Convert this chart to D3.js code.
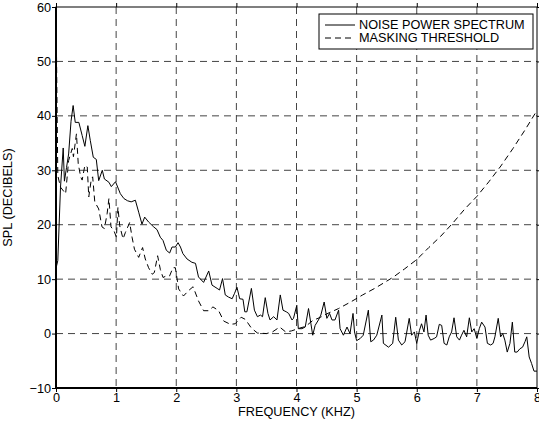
<!DOCTYPE html>
<html>
<head>
<meta charset="utf-8">
<script src="https://cdn.jsdelivr.net/npm/d3@7"></script>
<style>
  body { margin: 0; background: #fff; }
  text { font-family: "Liberation Sans", Arial, sans-serif; fill: #000; }
</style>
</head>
<body>
<div id="chart"></div>
<script>
// noise power spectrum, frequency (kHz) and level (dB)
var noiseFreq = [0, 0.03, 0.075, 0.12, 0.14, 0.175, 0.21, 0.25, 0.285, 0.32, 0.38, 0.435, 0.48, 0.53, 0.57, 0.62, 0.67, 0.71, 0.77, 0.805, 0.88, 0.92, 0.99,
  1.07, 1.13, 1.19, 1.25, 1.32, 1.375, 1.43, 1.475, 1.54, 1.625, 1.68, 1.735, 1.78, 1.835, 1.89, 1.93, 1.985,
  2.03, 2.07, 2.11, 2.18, 2.26, 2.32, 2.37, 2.455, 2.54, 2.595, 2.68, 2.72, 2.77, 2.815, 2.87, 2.93, 2.97,
  3.01, 3.055, 3.11, 3.14, 3.175, 3.25, 3.30, 3.35, 3.40, 3.435, 3.48, 3.525, 3.56, 3.62, 3.675, 3.73, 3.775, 3.83, 3.87, 3.925, 3.95,
  4.005, 4.03, 4.09, 4.145, 4.2, 4.24, 4.27, 4.31, 4.365, 4.405, 4.46, 4.505, 4.55, 4.59, 4.64, 4.70, 4.725, 4.78, 4.84, 4.89, 4.94, 4.965,
  5.0, 5.06, 5.11, 5.195, 5.235, 5.28, 5.335, 5.42, 5.445, 5.53, 5.60, 5.65, 5.695, 5.75, 5.805, 5.875, 5.915, 5.96,
  6.0, 6.045, 6.08, 6.12, 6.155, 6.19, 6.23, 6.29, 6.33, 6.375, 6.415, 6.455, 6.50, 6.54, 6.58, 6.62, 6.665, 6.71, 6.745, 6.785, 6.83, 6.875, 6.915, 6.955,
  7.0, 7.04, 7.08, 7.135, 7.175, 7.23, 7.27, 7.30, 7.355, 7.395, 7.43, 7.465, 7.505, 7.55, 7.59, 7.63, 7.67, 7.715, 7.76, 7.80, 7.83, 7.87, 7.91, 7.95, 8.0];
var noiseDb = [12, 13.4, 26.9, 34.1, 28, 30.5, 33, 39, 41.9, 38.8, 38.8, 36.4, 34.4, 38.2, 35.5, 32.4, 32, 28.1, 30, 28.4, 27.8, 27, 27.9,
  25.7, 24.8, 24.4, 24.2, 24.5, 22.3, 20.1, 21.4, 20.5, 19.6, 19.1, 17.7, 17.1, 15.3, 14.8, 15.9, 15.9,
  16.7, 15.9, 14.7, 13.7, 13.1, 12.9, 10.4, 9.4, 11.5, 8.9, 8.3, 8.0, 10.1, 7.1, 6.7, 6.4, 7.4,
  8.5, 6.4, 6.3, 4.0, 4.0, 8.3, 4.3, 3.1, 3.4, 3.1, 6.6, 3.7, 2.5, 3.1, 2.5, 7.1, 4.3, 4.0, 3.7, 2.5, 2.8,
  5.2, 0.9, 0.9, 1.2, 4.6, 1.8, -0.3, 1.5, 2.5, 3.4, 5.8, 2.8, 3.7, 2.5, 2.5, 4.3, 0.9, -0.3, 1.2, 0, 3.7, 0.3,
  -1.3, -0.9, -0.3, 4.3, -1.5, -1.2, -0.3, 3.4, -1.8, -2.5, -1.8, 3.0, -1.2, -2.1, -1.5, 2.8, -0.3, 0.3,
  -1.8, 0.6, 1.8, 0.3, 3.4, -0.3, -1.2, -0.9, -0.6, 1.7, 1.5, -1.8, -2.1, -0.6, 0.3, 2.9, -0.6, -1.2, -0.3, 0.6, -0.6, 2.9, 0.3, 0.9,
  -0.9, 0.9, 2.1, 1.2, -1.8, -2.1, -1.8, -0.6, 2.8, -0.6, 0, -1.2, -3.4, -1.8, 2.1, -3.4, -3.4, -2.8, -2.5, -1.5, -0.6, -4.3, -5.5, -6.9, -6.9];

// masking threshold
var maskFreq = [0, 0.03, 0.075, 0.16, 0.21, 0.27, 0.29, 0.34, 0.37, 0.41, 0.435, 0.48, 0.52, 0.545, 0.585, 0.61, 0.645, 0.71, 0.765, 0.805, 0.85, 0.88, 0.915, 0.96,
  1.005, 1.03, 1.06, 1.115, 1.155, 1.225, 1.265, 1.305, 1.375, 1.44, 1.485, 1.54, 1.6, 1.635, 1.69, 1.735, 1.78, 1.835, 1.89, 1.945, 1.985,
  2.04, 2.12, 2.205, 2.28, 2.37, 2.455, 2.54, 2.61, 2.705, 2.79, 2.90, 2.98,
  3.08, 3.15, 3.25, 3.35, 3.5, 3.6, 3.72, 3.82, 3.92, 4.05, 4.15, 4.27, 4.4, 4.5, 4.7, 4.9,
  5.1, 5.3, 5.45, 5.6, 5.8, 6.0, 6.2, 6.4, 6.6, 6.8, 7.0, 7.2, 7.4, 7.6, 7.8, 8.0];
var maskDb = [60, 29, 26.9, 25.7, 31.8, 34, 32.5, 36.7, 31.2, 28.8, 28.2, 30.9, 30.6, 25.1, 28.2, 28.8, 24.2, 22.9, 19.6, 19.3, 22, 24.8, 19.6, 19,
  17.7, 23.2, 19.8, 17.4, 18.6, 20.4, 17.7, 15.5, 14, 15.8, 13.7, 12.1, 10.9, 11.2, 14.3, 11.8, 10.3, 10.6, 10.6, 12.1, 12.1,
  8.2, 6.9, 7.9, 8.6, 6.0, 4.2, 4.2, 4.9, 4.2, 2.3, 1.7, 1.8,
  3.0, 2.6, 1.0, 0.1, 0, 0.3, 1.2, 0.3, 0.5, 1.0, 1.3, 2.4, 3.0, 3.6, 4.6, 5.8,
  7.1, 8.3, 9.3, 10.3, 11.9, 13.6, 15.8, 17.9, 20.3, 22.9, 25.2, 27.9, 30.8, 34.0, 37.4, 41];

var xTicks = [0, 1, 2, 3, 4, 5, 6, 7, 8];
var yTicks = [-10, 0, 10, 20, 30, 40, 50, 60];
var seriesNames = ["NOISE POWER SPECTRUM", "MASKING THRESHOLD"];

var W = 539, H = 425;
var margin = {left: 56, top: 7, right: 2, bottom: 37};
var iw = W - margin.left - margin.right;
var ih = H - margin.top - margin.bottom;

var x = d3.scaleLinear().domain([0, 8]).range([0, iw]);
var y = d3.scaleLinear().domain([-10, 60]).range([ih, 0]);

var svg = d3.select("#chart").append("svg")
  .attr("width", W)
  .attr("height", H);

svg.append("defs").append("clipPath").attr("id", "clip")
  .append("rect").attr("width", iw).attr("height", ih);

var g = svg.append("g").attr("transform", "translate(" + margin.left + "," + margin.top + ")");

// grid
g.selectAll(".vgrid").data(xTicks.slice(1, -1)).enter().append("line")
  .attr("x1", function(d) { return x(d); })
  .attr("x2", function(d) { return x(d); })
  .attr("y1", 0).attr("y2", ih)
  .attr("stroke", "#444").attr("stroke-dasharray", "7,5");
g.selectAll(".hgrid").data(yTicks.slice(1, -1)).enter().append("line")
  .attr("x1", 0).attr("x2", iw)
  .attr("y1", function(d) { return y(d); })
  .attr("y2", function(d) { return y(d); })
  .attr("stroke", "#444").attr("stroke-dasharray", "7,5");

// axes
var xAxis = d3.axisBottom(x).tickValues(xTicks).tickSize(0).tickPadding(5).tickFormat(d3.format("d"));
var yAxis = d3.axisLeft(y).tickValues(yTicks).tickSize(0).tickPadding(5).tickFormat(d3.format("d"));

var gx = g.append("g").attr("transform", "translate(0," + ih + ")").call(xAxis);
var gy = g.append("g").call(yAxis);
[gx, gy].forEach(function(a) {
  a.select(".domain").remove();
  a.selectAll("text").style("font-size", "12.7px").style("font-family", "'Liberation Sans', Arial, sans-serif");
});

// inward ticks on all sides
g.append("g").call(d3.axisTop(x).tickValues(xTicks).tickSize(-4).tickFormat(""))
  .attr("transform", "translate(0," + ih + ")").select(".domain").remove();
g.append("g").call(d3.axisBottom(x).tickValues(xTicks).tickSize(-4).tickFormat(""))
  .select(".domain").remove();
g.append("g").call(d3.axisRight(y).tickValues(yTicks).tickSize(-4).tickFormat(""))
  .select(".domain").remove();
g.append("g").call(d3.axisLeft(y).tickValues(yTicks).tickSize(-4).tickFormat(""))
  .attr("transform", "translate(" + iw + ",0)").select(".domain").remove();

// curves
var noise = noiseFreq.map(function(f, i) { return [f, noiseDb[i]]; });
var mask = maskFreq.map(function(f, i) { return [f, maskDb[i]]; });
var line = d3.line().x(function(d) { return x(d[0]); }).y(function(d) { return y(d[1]); });

var plot = g.append("g").attr("clip-path", "url(#clip)");
plot.append("path").datum(noise).attr("d", line)
  .attr("fill", "none").attr("stroke", "#000").attr("stroke-width", 1);
plot.append("path").datum(mask).attr("d", line)
  .attr("fill", "none").attr("stroke", "#000").attr("stroke-width", 1)
  .attr("stroke-dasharray", "6,4");

// frame
g.append("rect").attr("width", iw).attr("height", ih)
  .attr("fill", "none").attr("stroke", "#000").attr("stroke-width", 1);
g.append("line").attr("x1", 0).attr("x2", 0).attr("y1", 0).attr("y2", ih)
  .attr("stroke", "#000").attr("stroke-width", 2);
g.append("line").attr("x1", 0).attr("x2", iw).attr("y1", ih).attr("y2", ih)
  .attr("stroke", "#000").attr("stroke-width", 2);

// legend
var lg = g.append("g").attr("transform", "translate(" + (iw - 218) + ",7)");
lg.append("rect").attr("width", 214).attr("height", 35)
  .attr("fill", "#fff").attr("stroke", "#000");
var items = lg.selectAll(".item").data(seriesNames).enter().append("g")
  .attr("transform", function(d, i) { return "translate(0," + (11 + i * 13) + ")"; });
items.append("line").attr("x1", 6).attr("x2", 36)
  .attr("stroke", "#000")
  .attr("stroke-dasharray", function(d, i) { return i ? "6,4" : null; });
items.append("text").attr("x", 40).attr("dy", "0.35em")
  .style("font-size", "12.7px").text(function(d) { return d; });

// axis titles
svg.append("text").attr("x", margin.left + iw / 2).attr("y", 416)
  .attr("text-anchor", "middle").style("font-size", "12.7px")
  .text("FREQUENCY (KHZ)");
svg.append("text").attr("transform", "translate(12," + (margin.top + ih / 2) + ") rotate(-90)")
  .attr("text-anchor", "middle").style("font-size", "12.7px")
  .text("SPL (DECIBELS)");
</script>
</body>
</html>
